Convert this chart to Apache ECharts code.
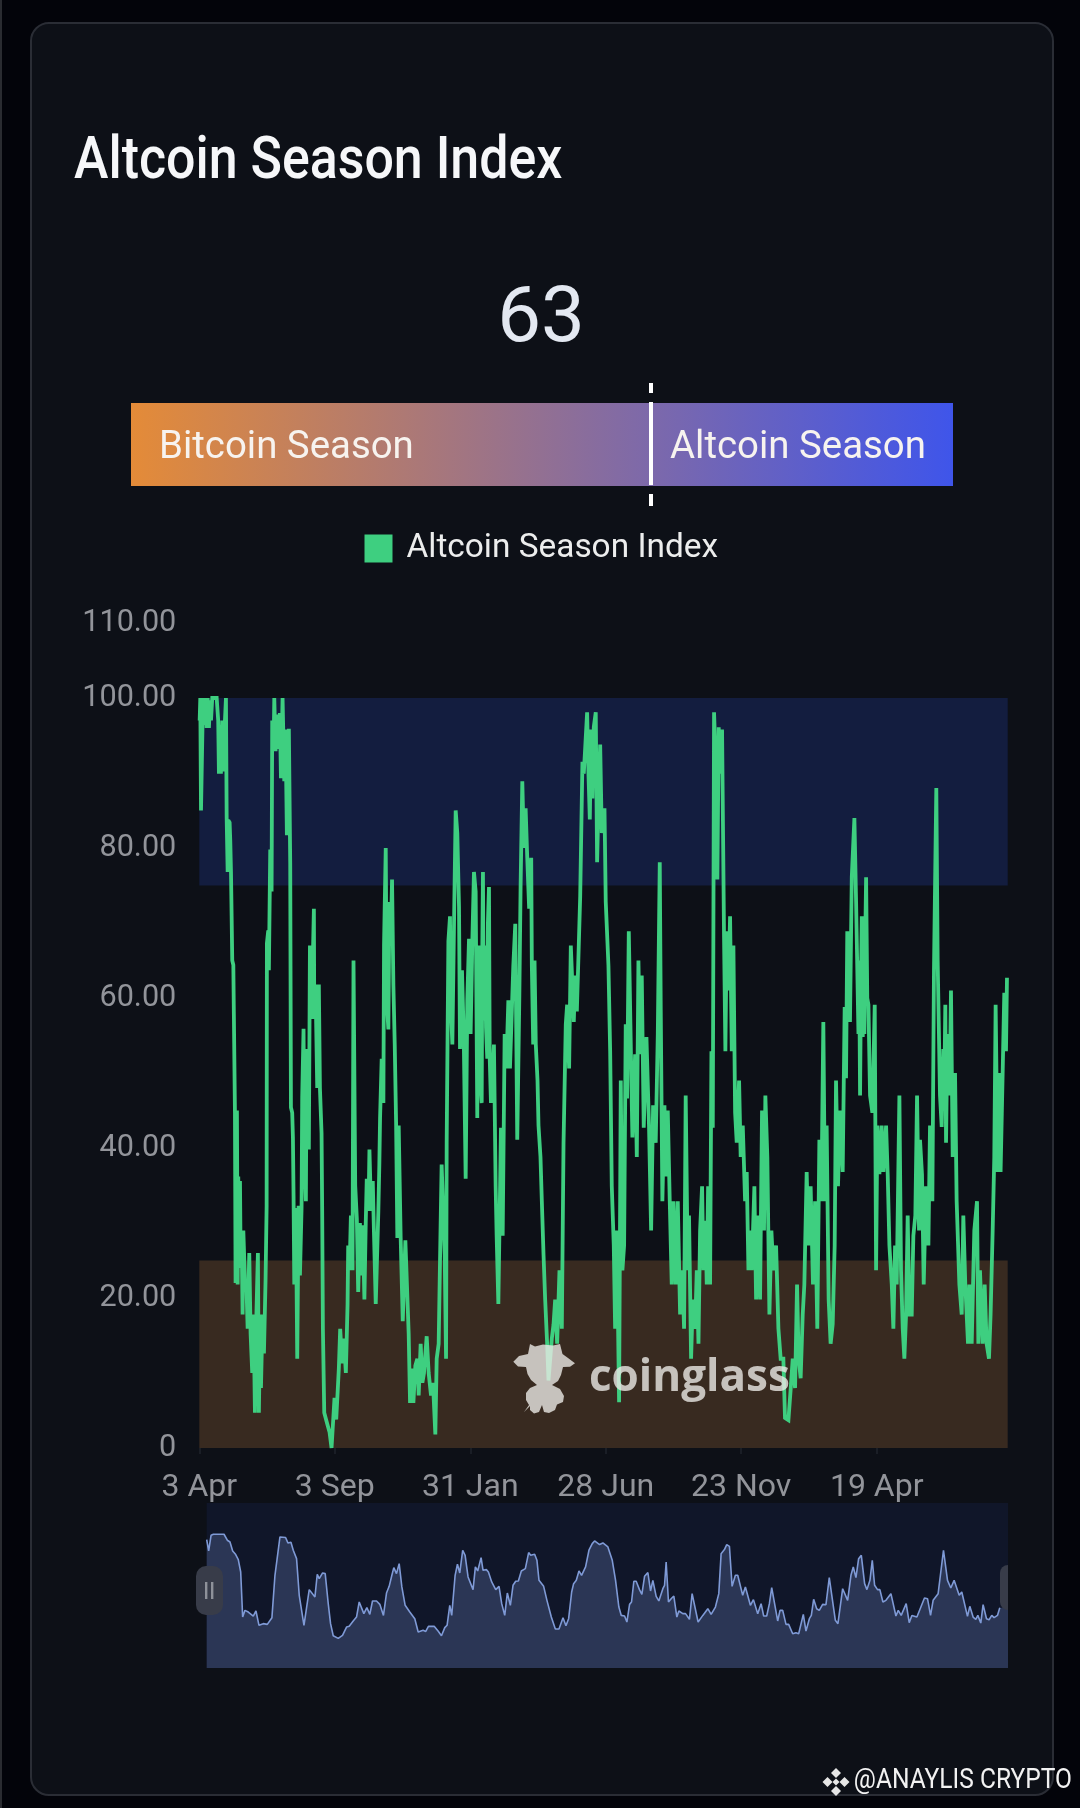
<!DOCTYPE html>
<html>
<head>
<meta charset="utf-8">
<style>html,body{margin:0;padding:0;background:#03040a;}#c{width:1080px;height:1808px;}</style>
<script src="https://cdn.jsdelivr.net/npm/echarts@6/dist/echarts.min.js"></script>
</head>
<body>
<div id="c"></div>
<script>
// Values: [day index, Altcoin Season Index]
const indexPointsA = [[0.4,97],[1.1,100],[1.9,85],[3.3,85],[4.1,100],[5.6,96.4],[6.7,100],[8.2,96],[9.3,100],[10.7,96],[11.9,99.7],[13,97],[14.4,100],[19.3,100],[21,97],[21.8,89.9],[23,96.4],[24,89.9],[25.5,97],[26.7,90.2],[28.5,97],[29.6,100],[30.4,84],[31.5,76.8],[32.2,83.7],[33.7,83.4],[34.4,81],[35.2,76.8],[35.9,71],[36.6,65],[37.8,64.4],[38.4,57.8],[39.6,44.7],[40.3,22],[41,40],[41.8,45],[42.6,21.8],[43.3,36.2],[44,25],[45.2,35.6],[46,24],[47,29],[48.1,17.8],[48.9,29],[50.7,22.4],[52.5,21.1],[53.7,15.9],[55.5,26],[57,15.2],[58.8,10],[60.3,17.8],[61.8,4.7],[63.3,17.1],[65.1,26],[66.2,4.7],[67.7,17.8],[68.5,8],[70.3,17.8],[71.8,12.6],[73.6,22.4],[74.8,32.3],[75.1,67.3],[76.6,69],[77.3,63.7],[78.8,79.8],[80.3,74.2],[81,97],[82.5,93.2],[83.3,100],[84.7,92.9],[86.2,97.8],[87.7,93.2],[89.5,98],[90.7,89.3],[92.5,100],[94.4,88.9],[95.8,95.8],[97.3,81.7],[99.5,95.9],[101,78],[101.8,45.4],[103.2,44.7],[104,41.4],[104.7,33.6],[105.5,21.8],[107.3,32],[108.8,11.9],[110.3,32.3],[111.8,23],[113.6,32],[114.3,46.7],[115.8,55.9],[116.6,39.8],[118.4,32.9],[119.2,53.2],[121.7,39.8],[122.9,67],[124.7,57.2],[127.3,71.9],[127.7,57.2],[129.1,61.8],[131,48],[132.8,61.8],[134,48],[135.8,42],[136.5,31.6],[137.3,15.9],[138.8,4.7],[141.7,3.4],[144.7,2.1],[146.9,0],[149.1,0],[150.2,6.7],[152.1,3.8],[155,10.6],[156.5,15.9],[158.7,11.3],[160.6,14.6],[162.8,10],[164.7,19.2],[165.4,27],[166.9,23.7],[168.4,31],[170.2,23.7],[171.3,65],[173.2,35],[175,30.6],[176.5,20.8],[178.4,30]];
const indexPointsB = [[178.6,30],[180.5,23],[181.6,29.7],[183.4,19.8],[184.9,30],[186,35.9],[187.9,31.6],[189,39.8],[190.8,31.6],[192.7,35.6],[194.1,28.3],[196,19.2],[197.1,19.2],[198.9,31.6],[200,37.8],[200.8,44],[202.6,51.9],[204.5,46],[205.2,67],[207.1,80],[208.2,59.7],[210,55.8],[211.2,72.8],[212.6,67],[214.1,75.8],[215.6,61.7],[217.1,53.8],[218.6,43.4],[220,28],[221.5,43],[223.7,28],[226,16.9],[228.2,16.9],[228.9,27.7],[230.8,27.7],[232.6,15.2],[234.1,6],[236,10.6],[237.8,6],[240,11],[242.2,11.9],[243.7,7],[245.9,13.9],[247.8,8.7],[249.6,10],[252.6,14.9],[254.8,10],[257.4,7],[259.6,8.7],[262.2,1.8],[263.7,11.9],[265.9,13.9],[267.4,25],[269.2,37.8],[271.1,37.8],[272.6,25.7],[274.1,11.9],[274.8,40.7],[276.7,67.6],[278.5,70.9],[279.2,59.7],[281.1,53.8],[283.3,72.8],[284.8,85],[286.6,82],[288.5,72.2],[289.6,53.2],[291.8,63.7],[293.7,55.2],[295.9,35.9],[297.7,59.7],[299.6,67.9],[301.4,55.2],[303.3,67.6],[305.1,76.8],[307,74.2],[308.8,44],[309.5,67],[310.3,55],[311,67],[312,49],[313.7,46],[314.4,67],[315.1,76.8],[316,57],[317.4,67],[318.5,56],[319.9,51.9],[320.6,70],[321.8,74.8],[322.6,52],[324,46],[325.9,46],[327.3,53.8],[329.2,34.9],[330.3,28.3],[332.2,19.2],[334,19.2],[335.1,42.7],[337,28.3],[339.2,55.2],[341,50.6],[343.3,59.7],[345.1,50.6],[347,50.6],[348.8,64.3],[351,69.9],[353.2,41.1],[355.5,60.1],[356.9,74.8],[358.8,88.9],[360.6,80],[362.5,85.3],[364.3,78.7]];
const indexPointsC = [[365,78.7],[366.4,71.9],[368.7,78.7],[369.4,64.3],[370.9,53.8],[372.4,65],[373.8,53.8],[375.7,49],[376.8,43],[379,38.8],[380.5,32.9],[382.4,25.7],[384.2,19.8],[386.4,13.9],[387.9,9],[390.1,9],[391.6,14.6],[393.5,16.5],[395.3,19.8],[397.5,13.9],[400.1,23.7],[402.7,15.9],[404.6,40.7],[407.1,56.5],[408.6,59.1],[410.8,50.6],[412.7,67],[414.2,62.4],[416,56.8],[417.5,63],[419.4,58.2],[421.2,58.2],[423.1,73.5],[425.6,91.5],[427.1,89.9],[430.8,98.1],[432.3,89.9],[433.8,83.8],[435.3,95.8],[436.7,86.6],[438.2,96.1],[440.4,98.1],[441.9,78.1],[443.4,85.9],[445.3,93.8],[447.1,82],[450.1,85.3],[451.5,72.8],[453.4,72.8],[454.5,64.3],[456.4,52.9],[458.2,34.9],[460.4,27],[461.9,15.9],[463.8,29],[466.3,6.1],[468.2,49],[470,23.7],[471.9,27],[473.7,56.5],[475.2,46.6],[477.1,68.9],[478.9,56.5],[481.1,41.4],[484.1,52.5],[486,38.8],[487.8,65],[489.7,52.5],[491.5,63],[493.7,42.7],[496.7,54.8],[499.6,42.7],[501.9,29],[504.1,45.7],[507,40.7],[509.3,55.1],[511.5,78.1],[512.6,58.4],[514.4,32.9],[516.7,45.7],[518.1,36.2],[520.4,45],[522.6,32.9],[524.8,21.8],[526.7,32.9],[529.2,21.8],[531.5,32.9],[534.1,17.8],[536.6,23.7],[538.5,15.9],[540.3,47],[542.6,23.7],[544,31]];
const indexPointsD = [[546.3,11.9],[548.2,19.8],[550.8,15.9],[552.6,23.7],[554.5,13.9],[556.3,29],[558.5,34.9],[560,23.7],[562.2,30.3],[563.7,21.8],[565.2,34.9],[567.4,21.8],[568.9,52.9],[570.4,42.7],[571.8,98.1],[574.1,89.9],[575.5,75.8],[577,96.1],[578.5,89.9],[580.7,95.8],[582.9,68.2],[584.4,52.9],[585.9,68.9],[587.8,61],[589.6,70.9],[591.5,52.9],[593.3,67],[595.2,44.7],[597,40.7],[599.6,49],[601.4,38.8],[603.7,43],[606.3,32.9],[608.1,36.8],[610,23.7],[611.8,29],[613.7,23.7],[616.6,34.9],[618.5,19.8],[621,31],[622.9,19.8],[625.1,45],[627.3,29],[628.8,47],[631,38.8],[633.3,17.8],[635.5,29],[637.7,23.7],[640.7,27],[643.3,15.9],[645.8,11.9],[648.8,11.9],[650.6,4],[654.4,3.7],[657,8],[659.2,11.9],[661.8,8],[664,21.8],[665.8,11.9],[668,9.3],[670.3,17.8],[672.1,21.8],[674.7,36.8],[676.6,27],[679.1,34.9],[681.7,21.8],[684,32.9],[686.5,15.9],[688.8,41.1],[691,32.9],[693.2,56.8],[695,32.9],[696.9,43],[699.1,19.8],[701.3,13.9],[703.6,16.5],[705.8,27],[707.3,49],[709.5,34.9],[711.7,45],[714.7,36.8],[716.9,58.8],[718.4,49.3],[719.8,68.9],[722.8,56.8]];
const indexPointsE = [[724.8,76.1],[727.7,84],[729.6,72.8],[732.2,55.2],[733,65],[734,47],[735,62],[735.9,70.9],[737,54.8],[738,66],[738.8,55.2],[739.8,68],[740.7,76.1],[742,60],[743.3,59.1],[745.1,47],[747.7,44.7],[750.3,59.1],[751.8,23.7],[753.2,43],[755.5,36.5],[758,43],[759.9,36.8],[762.9,43],[764.7,36.5],[766.6,27],[769.2,21.8],[771,15.9],[772.9,27],[774.7,21.8],[777.7,47],[779.5,23.7],[781.4,15.9],[783.2,11.9],[785.1,17.8],[786.9,31],[788.8,17.8],[791.4,17.8],[793.2,28.3],[795.4,31],[797.3,47],[799.5,29],[800.6,41.1],[802.8,36.5],[804.7,21.8],[807.3,34.9],[809.9,27],[811.7,43],[814.3,32.9],[816.1,63.7],[818.7,88],[820.2,65],[822.8,47],[824.7,42.8],[826.5,53.2],[827.5,47],[828.7,59.1],[829.5,40.7],[830.5,50],[832.4,55.2],[833.5,47],[835,61],[836.9,38.8],[839.5,50],[841.3,32.9],[844.3,21.8],[846.9,17.8],[848.7,31],[850.9,21.8],[853.9,13.9],[855.4,21.8],[858,13.9],[860.9,29],[863.9,32.9],[865.4,13.9],[867.2,23.7],[870.2,13.9],[872.4,21.8],[874.6,13.9],[877.2,11.9],[879,17.8],[881.3,29],[883.1,38.8],[884.6,59.1],[886.8,36.8],[888.5,50],[890.1,36.8],[892.4,50],[894.2,60.7],[896.1,52.9],[897.2,62.7]];
// Overview strip below the chart, read separately: it is a coarser view of the same index
const overviewPoints = [[0,94.5],[2.2,83.5],[4.9,98.7],[7.5,99.7],[19.4,99.7],[23.1,93.9],[26.1,92.2],[29.1,83.5],[32.5,80],[35.4,75.1],[38.1,63.1],[40.3,19.4],[42.9,25.9],[46.6,24.3],[52.2,20.4],[55.2,25.3],[58.6,11.4],[63.4,13],[67.9,12.3],[73.1,18.8],[76.5,59.9],[82.1,97.1],[84.3,95.8],[88.4,96.5],[91,91.3],[94.4,91.9],[97,84.2],[100.7,76.1],[103.7,40.5],[109,11.4],[114.9,46],[121.3,38.9],[123.9,60.9],[126.1,56.7],[129.9,62.2],[132.8,61.5],[136.2,32.4],[138.8,13],[141.8,1.3],[147.4,-1.3],[152.2,1.6],[156.7,9.7],[159.7,10.4],[164.2,15.6],[167.9,19.4],[170.9,34],[176.1,22.7],[179.5,28.5],[182.8,22],[185.8,35],[190.3,35],[194,31.7],[198.1,21],[201.5,42.7],[204.5,49.2],[207.5,59.9],[209.7,67.3],[212.7,61.5],[215.7,71.2],[218.7,48.6],[222.4,30.8],[227.6,24.3],[233.2,17.8],[237,4.9],[242.5,6.5],[245.5,5.5],[248.5,10.4],[250.7,9.1],[254.9,10.4],[259.3,5.8],[263.1,1.3],[266.8,9.1],[269.4,11.4],[272.4,30.8],[274.6,21],[278.4,59.9],[281,70.6],[283.6,62.2],[286.9,84.2],[289.6,79.3],[292.9,58.3],[298.5,46],[301.1,68],[303.7,64.1],[307.5,77],[309.7,64.7],[313.4,65.4],[315.7,63.1],[319.4,53.4],[323.9,46],[327.6,49.2],[330.6,32.4],[334,21],[336.9,42.7],[340.3,30.8],[343.3,50.2],[346.3,54.1],[349.3,54.4],[352.6,64.1],[357.1,66.4],[360.8,81.9],[363.1,79.3],[367.5,80.3],[370.1,74.4],[372.4,55],[377.6,49.2],[381.3,35.6],[386.2,19.4],[390.7,7.8],[394.8,7.8],[399.3,18.8],[402.6,11],[405.6,17.8],[409,43.7],[411.2,51.8],[414.2,55],[417.2,64.1],[420.1,59.9],[424.6,68],[428.4,84.2],[432.1,90.6],[434.7,93.2],[440.3,89.7],[444,91.3],[449.6,87.4],[454.5,74.4],[458.2,55],[461.9,29.1],[464.6,21],[468.3,20.4],[470.9,14.6],[473.9,31.7],[476.1,34],[478.7,54.1],[481.3,54.1],[485,46],[487.7,41.4],[490.7,58.9],[494.4,62.5],[497.4,44.7],[500,55],[503.7,39.5],[506.7,35],[511.2,46.9],[513.1,50.2],[514.9,72.8],[517.5,34],[520.5,37.2],[523.5,39.8],[526.9,19.4],[529.1,25.3],[533.6,22.7],[536.6,22.7],[541,17.2],[544,42.1],[550.7,14.6],[556,21],[561.6,27.5],[565.3,22],[570.1,29.1],[573.9,42.1],[576.5,80.9],[580.2,84.8],[582.8,89.7],[585.8,88],[588.8,49.2],[592.5,59.9],[595.1,59.9],[600.7,40.5],[603.7,48.6],[609.3,30.8],[612.7,36.3],[617.5,22.7],[621.3,32.4],[624.2,20.4],[627.6,20.4],[630.6,32.4],[633.2,47.9],[639.9,15.6],[642.5,25.9],[645.5,25.9],[649.2,12.3],[652.2,12.3],[656.7,3.2],[660.4,4.2],[663.4,3.2],[668.6,22],[671.6,5.8],[675.4,17.8],[677.6,21],[680.2,36.6],[683.6,27.5],[686.5,25.9],[690.3,31.7],[694,31.4],[697.7,57.6],[704.5,16.2],[707.4,13],[712.7,46.9],[718.3,35.6],[722,59.9],[724.6,68],[727.6,57.6],[730.6,76],[733.6,79.3],[737.3,51.8],[739.9,46],[743.3,55],[745.9,74.4],[748.5,50.2],[751.8,46],[754.4,46],[757.8,34],[761.2,35.6],[766.8,42.1],[772.4,20.4],[775,25.9],[778.3,21],[783.9,32.4],[787.3,13.9],[790.3,21],[795.9,19.4],[804.4,37.9],[807.8,37.2],[811.2,21],[814.1,35.6],[819.7,42.1],[825.7,84.2],[830.2,55],[833.9,47.6],[837.6,55],[843.3,40.5],[846.2,43.7],[852.6,20.1],[855.2,29.8],[858.9,19.4],[861.9,17.2],[864.2,21],[867.5,13.6],[870.1,31.4],[873.9,17.8],[876.8,16.8],[879.8,21],[882.4,18.8],[886.2,21],[888.8,28.5]];
const tickLabels = ['3 Apr','3 Sep','31 Jan','28 Jun','23 Nov','19 Apr'];
const tickEveryDays = 150.5;
const lastDay = 898;
const currentIndex = 63;
const seasonLabels = ['Bitcoin Season','Altcoin Season'];
const seriesName = 'Altcoin Season Index';
const altcoinBand = [75,100];
const bitcoinBand = [0,25];

const allPoints = indexPointsA.concat(indexPointsB,indexPointsC,indexPointsD,indexPointsE);
const FONT='Roboto';
const chart = echarts.init(document.getElementById('c'),null,{renderer:'canvas',width:1080,height:1808});

const mascotOutline=[[530,1344],[535,1346.5],[543,1344.5],[553,1345.5],[560,1344],[562.5,1354],[568,1358],[575,1363.3],[570,1366.7],[563,1367],[561,1375],[558,1381],[552,1385],[560,1389],[564,1396],[563,1402],[557,1404.5],[555,1410],[549,1413],[544,1412],[542,1405],[539,1412],[534,1413.5],[530,1410],[530,1406],[524,1412],[529,1405],[526,1400],[526,1393],[530,1388],[537,1385],[531,1380],[527.5,1374],[526,1367],[518,1366.5],[513.3,1361.7],[519,1356],[528,1354],[529,1349]];
const logoDiamonds=[[836,1773,5],[827.5,1782,5],[844.5,1782,5],[836,1782,3.5],[836,1791,5]];
const diamond=([x,y,r])=>({type:'polygon',z:40,silent:true,shape:{points:[[x,y-r],[x+r,y],[x,y+r],[x-r,y]]},style:{fill:'#e6e6e6'}});

chart.setOption({
  backgroundColor:'#03040a',
  animation:false,
  title:[
    {text:String(currentIndex),left:536,top:277,textAlign:'center',textStyle:{fontFamily:FONT,fontSize:78,fontWeight:400,color:'#e3e8f1'}}
  ],
  legend:{data:[{name:seriesName,icon:'rect',itemStyle:{color:'#3ecf80'}}],left:359.5,top:527,itemWidth:28,itemHeight:28,itemGap:0,
    textStyle:{fontFamily:FONT,fontSize:33.4,color:'#eceded',padding:[0,0,6,9]}},
  grid:[
    {left:199.3,width:808.4,top:623,height:825},
    {left:206.7,width:801.3,top:1503,height:165,show:true,backgroundColor:'#101629',borderWidth:0},
    {left:131,width:822,top:383,height:123}
  ],
  xAxis:[
    {gridIndex:0,type:'value',min:0,max:lastDay,interval:tickEveryDays,splitLine:{show:false},axisLine:{show:false},
     axisTick:{show:true,length:6,lineStyle:{color:'#1a1e26',width:2}},
     axisLabel:{margin:23.5,showMaxLabel:false,color:'#92949a',fontFamily:FONT,fontSize:32,
       formatter:v=>{const k=v/tickEveryDays;return Number.isInteger(k)&&tickLabels[k]?tickLabels[k]:'';}}},
    {gridIndex:1,type:'value',min:0,max:lastDay,show:false},
    {gridIndex:2,type:'value',min:0,max:99.6,show:false}
  ],
  yAxis:[
    {gridIndex:0,type:'value',min:0,max:110,interval:20,splitLine:{show:false},axisLine:{show:false},axisTick:{show:false},
     axisLabel:{margin:23,color:'#92949a',fontFamily:FONT,fontSize:30.6,formatter:v=>v===0?'0':v.toFixed(2)}},
    {gridIndex:1,type:'value',min:-30,max:130,show:false},
    {gridIndex:2,type:'category',data:['index'],show:false}
  ],
  series:[
    {name:'Overview area',type:'line',xAxisIndex:1,yAxisIndex:1,data:overviewPoints.concat([[lastDay,28.5]]),showSymbol:false,silent:true,
      lineStyle:{width:0},areaStyle:{color:'#2b3655',opacity:1,origin:'start'}},
    {name:'Overview',type:'line',xAxisIndex:1,yAxisIndex:1,data:overviewPoints,showSymbol:false,silent:true,
      lineStyle:{width:1.6,color:'#7f9ad6'}},
    {name:'Season bar',type:'bar',xAxisIndex:2,yAxisIndex:2,data:[100],barWidth:83,silent:true,
      itemStyle:{color:{type:'linear',x:0,y:0,x2:1,y2:0.1,colorStops:[{offset:0,color:'#e48b38'},{offset:0.63,color:'#7d69aa'},{offset:1,color:'#3f55ea'}]}},
      markLine:{silent:true,symbol:'none',animation:false,label:{show:false},
        lineStyle:{color:'#ffffff',width:4,opacity:1,type:[12,9,83,9,12]},data:[{xAxis:currentIndex}]}},
    {name:seriesName,type:'line',xAxisIndex:0,yAxisIndex:0,data:allPoints,showSymbol:false,z:5,
      lineStyle:{width:3.8,color:'#3ecf80',join:'miter',miterLimit:2},itemStyle:{color:'#3ecf80'},
      markArea:{silent:true,data:[
        [{yAxis:altcoinBand[0],itemStyle:{color:'#131d3f'}},{yAxis:altcoinBand[1]}],
        [{yAxis:bitcoinBand[0],itemStyle:{color:'#382a20'}},{yAxis:bitcoinBand[1]}]
      ]}}
  ],
  graphic:[
    {type:'rect',z:-10,silent:true,shape:{x:31,y:23,width:1022,height:1772,r:18},style:{fill:'#0d1017',stroke:'#2a2d35',lineWidth:2}},
    {type:'rect',z:-10,silent:true,shape:{x:0,y:0,width:2,height:1808},style:{fill:'#2a2c31'}},
    {type:'text',z:20,silent:true,x:74,y:163,scaleX:0.865,style:{text:seriesName,x:0,y:0,fill:'#f6f7f9',font:'500 60px '+FONT,verticalAlign:'middle'}},
    {type:'text',z:20,silent:true,style:{text:seasonLabels[0],x:159,y:448,fill:'#f7f3ef',font:'400 38.4px '+FONT,verticalAlign:'middle'}},
    {type:'text',z:20,silent:true,style:{text:seasonLabels[1],x:670,y:448,fill:'#f7f3ef',font:'400 38.4px '+FONT,verticalAlign:'middle'}},
    {type:'polygon',z:30,silent:true,shape:{points:mascotOutline},style:{fill:'rgba(234,232,229,0.8)'}},
    {type:'text',z:30,silent:true,style:{text:'coinglass',x:589,y:1378,fill:'rgba(234,232,229,0.8)',font:'700 44px "Open Sans"',verticalAlign:'middle'}},
    {type:'rect',z:30,silent:true,shape:{x:196,y:1566,width:27,height:49,r:10},style:{fill:'#383c49'}},
    {type:'rect',z:31,silent:true,shape:{x:205,y:1582,width:2.4,height:17},style:{fill:'#8e9199'}},
    {type:'rect',z:31,silent:true,shape:{x:211,y:1582,width:2.4,height:17},style:{fill:'#8e9199'}},
    {type:'rect',z:30,silent:true,shape:{x:1000,y:1565,width:8,height:45,r:[8,0,0,8]},style:{fill:'#383c49'}},
    ...logoDiamonds.map(diamond),
    {type:'text',z:40,silent:true,x:1072,y:1781,scaleX:0.91,style:{text:'@ANAYLIS CRYPTO',x:0,y:0,fill:'#f2f2f2',font:'400 27px '+FONT,align:'right',verticalAlign:'middle'}}
  ]
});
</script>
</body>
</html>
